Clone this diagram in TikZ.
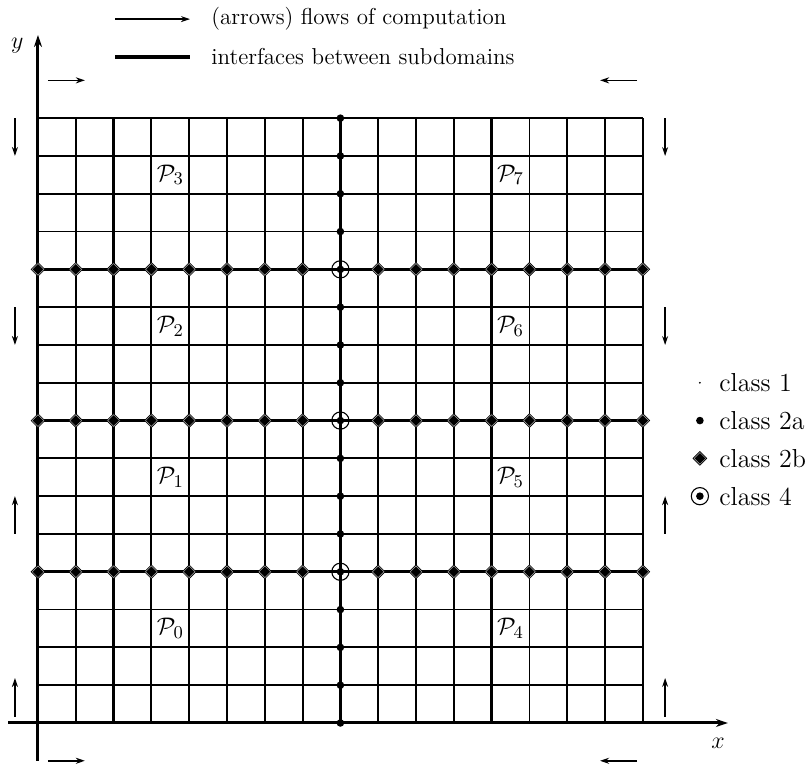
\documentclass[tikz,border=0pt]{standalone}
\usepackage{amsmath,amssymb}
\usepackage{tikz}
\usetikzlibrary{arrows.meta,shapes.geometric}

\newcommand{\legfont}{\fontsize{11.5}{13}\selectfont}
\newcommand{\clsfont}{\fontsize{13}{15}\selectfont}

\tikzset{
  gridline/.style={line width=0.9pt},
  midline/.style={line width=1.25pt},
  iface/.style={line width=1.5pt},
  axis/.style={line width=1.5pt,-{Stealth[length=6pt,width=4pt]}},
  flow/.style={line width=0.75pt,-{Stealth[length=4.5pt,width=3pt]}},
  pics/clsb/.style={code={
    \node[diamond,draw,line width=0.3pt,fill=black!35,inner sep=0pt,minimum size=7pt] {};
    \node[diamond,fill=black,inner sep=0pt,minimum size=5.4pt] {};
  }}
}

\begin{document}
\begin{tikzpicture}[x=18.9pt,y=18.9pt]
  \useasboundingbox (-1.005,-1.086) rectangle (20.476,19.126);
  % mesh
  \foreach \k in {1,...,16} {
    \draw[gridline] (\k,0) -- (\k,16);
    \draw[gridline] (0,\k) -- (16,\k);
  }
  \foreach \k in {2,12} \draw[midline] (\k,0) -- (\k,16);
  \foreach \k in {9,10,14} \draw[midline] (0,\k) -- (16,\k);
  % interfaces between subdomains
  \draw[iface] (8,0) -- (8,16);
  \foreach \k in {4,8,12} \draw[iface] (0,\k) -- (16,\k);
  % axes
  \draw[axis] (-0.79,0) -- (18.25,0);
  \draw[axis] (0,-1) -- (0,18.2);
  \node[font=\large] (xlab) at (17.99,-0.55) {$x$};
  \node[font=\large] (ylab) at (-0.55,17.93) {$y$};
  % point classes
  \foreach \k in {0,...,3,5,6,7,9,10,11,13,14,15,16} \fill (8,\k) circle (1.9pt);
  \foreach \k in {4,8,12} {
    \foreach \i in {0,...,7,9,10,...,16} \pic at (\i,\k) {clsb};
    \draw[line width=0.55pt] (8,\k) circle (4.3pt);
    \fill (8,\k) circle (1.9pt);
  }
  % subdomains
  \foreach \n/\i/\j in {0/3.5/2.5,1/3.5/6.5,2/3.5/10.5,3/3.5/14.5,
                        4/12.5/2.5,5/12.5/6.5,6/12.5/10.5,7/12.5/14.5}
    \node[font=\clsfont] (P\n) at (\i,\j) {$\mathcal{P}_{\n}$};
  % flows of computation
  \draw[flow] (0.26,17) -- (1.24,17);
  \draw[flow] (15.85,17) -- (14.87,17);
  \draw[flow] (0.26,-1) -- (1.24,-1);
  \draw[flow] (15.85,-1) -- (14.87,-1);
  \foreach \a/\b in {16/15,11/10,5/6,0.16/1.19} {
    \draw[flow] (-0.61,\a) -- (-0.61,\b);
    \draw[flow,line width=1.1pt] (16.59,\a) -- (16.59,\b);
  }
  % legend
  \draw[flow,line width=1.2pt] (2.04,18.62) -- (4.02,18.62);
  \node[anchor=west,font=\legfont] (legflow) at (4.4,18.62) {(arrows) flows of computation};
  \draw[iface,line width=1.6pt] (2.04,17.62) -- (4.02,17.62);
  \node[anchor=west,font=\legfont] (legiface) at (4.4,17.62) {interfaces between subdomains};
  \fill (17.51,9) circle (0.5pt);
  \node[anchor=west,font=\clsfont] (cls1) at (17.84,9) {class 1};
  \fill (17.51,8) circle (1.9pt);
  \node[anchor=west,font=\clsfont] (cls2a) at (17.84,8) {class 2a};
  \pic at (17.51,7) {clsb};
  \node[anchor=west,font=\clsfont] (cls2b) at (17.84,7) {class 2b};
  \draw[line width=0.55pt] (17.51,6) circle (4.3pt);
  \fill (17.51,6) circle (1.9pt);
  \node[anchor=west,font=\clsfont] (cls4) at (17.84,6) {class 4};
\end{tikzpicture}
\end{document}
